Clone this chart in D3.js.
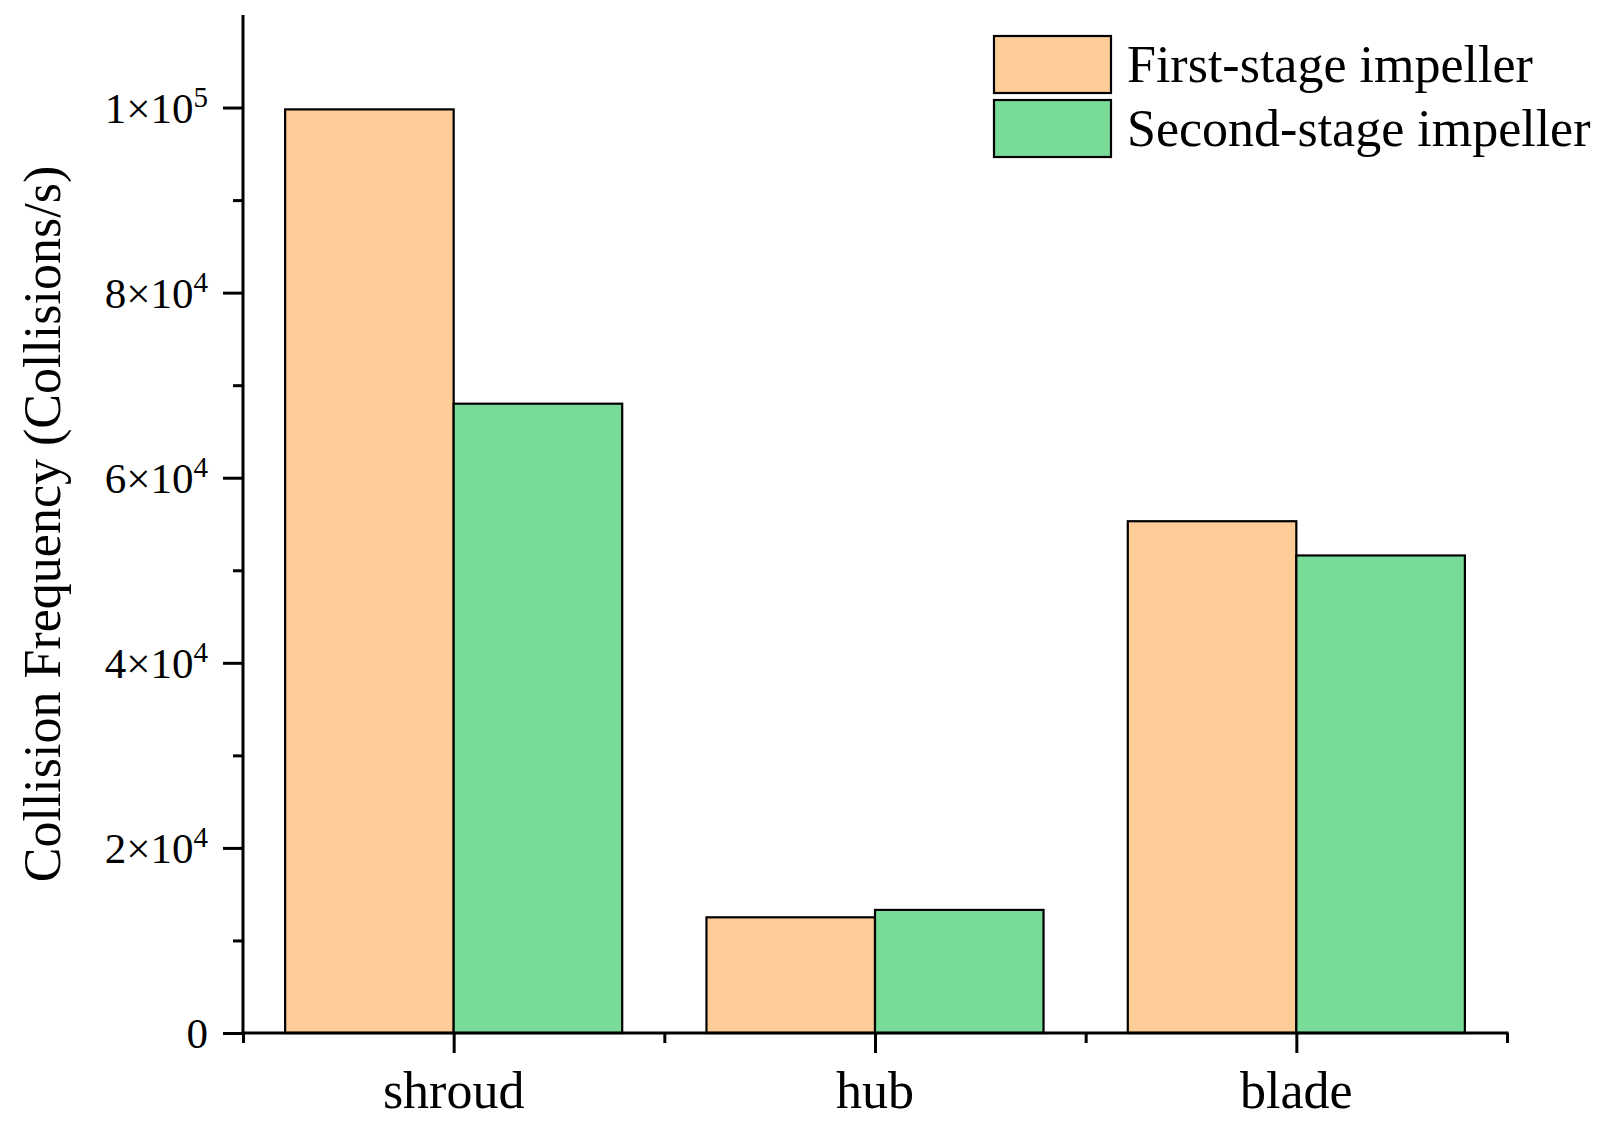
<!DOCTYPE html>
<meta charset="UTF-8">
<title>Collision Frequency</title>
<style>
  body { margin: 0; background: #fff; }
</style>
<svg width="1610" height="1124"></svg>
<script src="https://d3js.org/d3.v7.min.js"></script>
<script>
var categories = ["shroud", "hub", "blade"];
var seriesNames = ["First-stage impeller", "Second-stage impeller"];
var firstStage = [99800, 12500, 55300];
var secondStage = [68000, 13300, 51600];
var yTicks = [0, 20000, 40000, 60000, 80000, 100000];
var colors = ["#FECC96", "#78DC98"];
var serif = "'Liberation Serif', 'Times New Roman', Times, 'DejaVu Serif', serif";

var svg = d3.select("svg"),
    margin = {top: 15, right: 103, bottom: 91, left: 243},
    width = +svg.attr("width") - margin.left - margin.right,
    height = +svg.attr("height") - margin.top - margin.bottom,
    g = svg.append("g").attr("transform", "translate(" + margin.left + "," + margin.top + ")");

var x = d3.scaleLinear().domain([0.5, categories.length + 0.5]).range([0, width]);
var y = d3.scaleLinear().domain([0, 110000]).range([height, 0]);
var barW = x(1.4) - x(1);

var series = [firstStage, secondStage];

// bars
series.forEach(function(vals, s) {
  g.selectAll(".bar" + s)
    .data(vals)
    .enter().append("rect")
      .attr("x", function(d, i) { return s === 0 ? x(i + 1) - barW : x(i + 1); })
      .attr("y", function(d) { return y(d); })
      .attr("width", barW)
      .attr("height", function(d) { return height - y(d); })
      .attr("fill", colors[s])
      .attr("stroke", "#000")
      .attr("stroke-width", 2.2);
});

// y axis: major + minor ticks
var yAxis = g.append("g")
    .call(d3.axisLeft(y).tickValues(yTicks).tickSize(20).tickFormat(""));
yAxis.select(".domain").remove();
g.append("g")
    .call(d3.axisLeft(y).tickValues(d3.range(10000, 110000, 20000)).tickSize(10).tickFormat(""))
  .select(".domain").remove();

g.append("line")
    .attr("x1", 0).attr("x2", 0)
    .attr("y1", 0).attr("y2", height + 1.5)
    .attr("stroke", "#000").attr("stroke-width", 3);

// y tick labels with superscripts
var yl = g.append("g").selectAll("text")
  .data(yTicks)
  .enter().append("text")
    .attr("x", -35)
    .attr("y", function(d) { return y(d); })
    .attr("dy", "0.35em")
    .attr("text-anchor", "end")
    .style("font-family", serif)
    .style("font-size", "43px");
yl.each(function(d) {
  var t = d3.select(this);
  if (d === 0) { t.text("0"); return; }
  var e = Math.floor(Math.log10(d)), m = Math.round(d / Math.pow(10, e));
  t.append("tspan").text(m + "\u00D710");
  t.append("tspan").attr("dy", "-0.55em").style("font-size", "29px").text(e);
});

// x axis
g.append("line")
    .attr("x1", -1.5).attr("x2", width + 1.5)
    .attr("y1", height).attr("y2", height)
    .attr("stroke", "#000").attr("stroke-width", 3);
var xa = g.append("g").attr("transform", "translate(0," + height + ")")
    .call(d3.axisBottom(x).tickValues([1, 2, 3]).tickSize(20).tickFormat(""));
xa.select(".domain").remove();
var xb = g.append("g").attr("transform", "translate(0," + height + ")")
    .call(d3.axisBottom(x).tickValues([0.5, 1.5, 2.5, 3.5]).tickSize(10).tickFormat(""));
xb.select(".domain").remove();
g.selectAll(".tick line").attr("stroke-width", 3);

g.append("g").selectAll("text")
  .data(categories)
  .enter().append("text")
    .attr("x", function(d, i) { return x(i + 1); })
    .attr("y", height + 75)
    .attr("text-anchor", "middle")
    .style("font-family", serif)
    .style("font-size", "52px")
    .text(function(d) { return d; });

// y title
svg.append("text")
    .attr("transform", "translate(60," + (margin.top + height / 2) + ") rotate(-90)")
    .attr("text-anchor", "middle")
    .style("font-family", serif)
    .style("font-size", "52px")
    .text("Collision Frequency (Collisions/s)");

// legend
var legend = svg.append("g").selectAll("g")
  .data(seriesNames)
  .enter().append("g")
    .attr("transform", function(d, i) { return "translate(994," + (36 + i * 64) + ")"; });
legend.append("rect")
    .attr("width", 117).attr("height", 57)
    .attr("fill", function(d, i) { return colors[i]; })
    .attr("stroke", "#000").attr("stroke-width", 2.2);
legend.append("text")
    .attr("x", 133).attr("y", 46)
    .style("font-family", serif)
    .style("font-size", "52px")
    .text(function(d) { return d; });
</script>
